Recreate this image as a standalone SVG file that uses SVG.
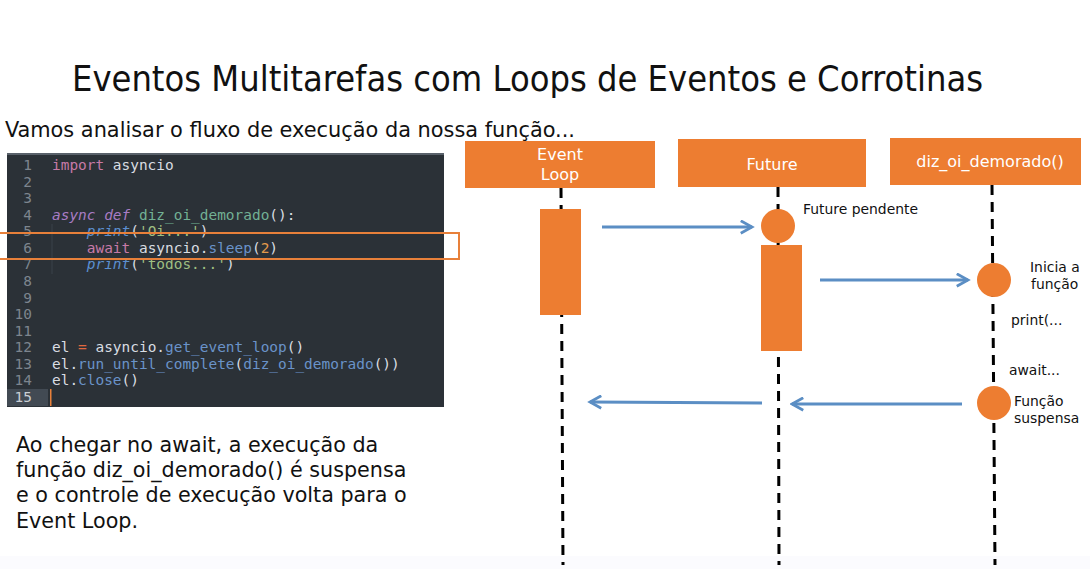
<svg xmlns="http://www.w3.org/2000/svg" width="1090" height="569" viewBox="0 0 1090 569">
  <style>
    .title { font-family: "DejaVu Sans Condensed", "DejaVu Sans", sans-serif; font-size: 36px; fill: #111; }
    .sub { font-family: "DejaVu Sans Condensed", "DejaVu Sans", sans-serif; font-size: 21px; fill: #111; }
    .body { font-family: "DejaVu Sans", sans-serif; font-size: 20.7px; fill: #111; }
    .code { font-family: "DejaVu Sans Mono", monospace; font-size: 14.45px; fill: #d9dde2; white-space: pre; }
    .ln { font-family: "DejaVu Sans Mono", monospace; font-size: 14.45px; fill: #7d858e; text-anchor: end; }
    .kw { fill: #c77aa7; }
    .it { fill: #a87cc4; font-style: italic; }
    .fn { fill: #72b094; }
    .bi { fill: #5c8fd0; font-style: italic; }
    .str { fill: #9fbf82; }
    .mt { fill: #6a93c9; }
    .num { fill: #e39a4b; }
    .op { fill: #e0683f; }
    .head { fill: #ed7d31; }
    .hlabel { font-family: "DejaVu Sans", sans-serif; font-size: 16px; fill: #fff; text-anchor: middle; }
    .life { stroke: #000; stroke-width: 3; stroke-dasharray: 10 7; fill: none; }
    .act { fill: #ed7d31; }
    .note { font-family: "DejaVu Sans", sans-serif; font-size: 13.9px; fill: #111; }
    .msg { stroke: #5b8ec4; stroke-width: 3; fill: none; marker-end: url(#arrow); }
  </style>
  <defs>
    <marker id="arrow" viewBox="0 0 12 12" refX="10" refY="6" markerWidth="5" markerHeight="5" orient="auto" markerUnits="strokeWidth">
      <path d="M1,1 L10,6 L1,11" fill="none" stroke="#5b8ec4" stroke-width="2.2" stroke-linejoin="miter"/>
    </marker>
  </defs>

  <rect width="1090" height="569" fill="#ffffff"/>
  <rect y="556" width="1090" height="13" fill="#fbfbfe"/>

  <!-- Headings -->
  <text class="title" x="72" y="91" textLength="911" lengthAdjust="spacingAndGlyphs">Eventos Multitarefas com Loops de Eventos e Corrotinas</text>
  <text class="sub" x="5" y="137" textLength="570" lengthAdjust="spacingAndGlyphs">Vamos analisar o fluxo de execução da nossa função...</text>

  <!-- Code editor -->
  <g id="code-panel">
    <rect x="7" y="153" width="437" height="254" fill="#2b3137"/>
    <rect x="7" y="153" width="437" height="2" fill="#59616a"/>
    <rect x="7" y="389" width="41" height="17" fill="#424a53"/>
    <rect x="50" y="389" width="1.5" height="17" fill="#e8803a"/>
    <line x1="52" y1="224" x2="52" y2="274" stroke="#3a424a" stroke-width="1"/>
    <text class="ln" x="32" y="170">1</text>
    <text class="ln" x="32" y="186.6">2</text>
    <text class="ln" x="32" y="203.1">3</text>
    <text class="ln" x="32" y="219.7">4</text>
    <text class="ln" x="32" y="236.3">5</text>
    <text class="ln" x="32" y="252.9">6</text>
    <text class="ln" x="32" y="269.4">7</text>
    <text class="ln" x="32" y="286">8</text>
    <text class="ln" x="32" y="302.6">9</text>
    <text class="ln" x="32" y="319.1">10</text>
    <text class="ln" x="32" y="335.7">11</text>
    <text class="ln" x="32" y="352.3">12</text>
    <text class="ln" x="32" y="368.9">13</text>
    <text class="ln" x="32" y="385.4">14</text>
    <text class="ln" x="32" y="402" style="fill:#c9ced4">15</text>
    <text class="code" x="52" y="170"><tspan class="kw">import</tspan> asyncio</text>
    <text class="code" x="52" y="219.7"><tspan class="it">async</tspan> <tspan class="it">def</tspan> <tspan class="fn">diz_oi_demorado</tspan>():</text>
    <text class="code" x="52" y="236.3">    <tspan class="bi">print</tspan>(<tspan class="str">'Oi...'</tspan>)</text>
    <text class="code" x="52" y="252.9">    <tspan class="kw">await</tspan> asyncio.<tspan class="mt">sleep</tspan>(<tspan class="num">2</tspan>)</text>
    <text class="code" x="52" y="269.4">    <tspan class="bi">print</tspan>(<tspan class="str">'todos...'</tspan>)</text>
    <text class="code" x="52" y="352.3">el <tspan class="op">=</tspan> asyncio.<tspan class="mt">get_event_loop</tspan>()</text>
    <text class="code" x="52" y="368.9">el.<tspan class="mt">run_until_complete</tspan>(<tspan class="mt">diz_oi_demorado</tspan>())</text>
    <text class="code" x="52" y="385.4">el.<tspan class="mt">close</tspan>()</text>
  </g>

  <!-- Highlight around the await line -->
  <rect id="await-highlight" x="-5" y="233" width="464" height="26" fill="none" stroke="#e8803a" stroke-width="2"/>

  <!-- Explanation -->
  <text class="body" x="16" y="452">Ao chegar no await, a execução da</text>
  <text class="body" x="16" y="477">função diz_oi_demorado() é suspensa</text>
  <text class="body" x="16" y="502">e o controle de execução volta para o</text>
  <text class="body" x="16" y="528">Event Loop.</text>

  <!-- Lifelines -->
  <g id="lifelines">
    <line class="life" x1="561" y1="188" x2="563" y2="565"/>
    <line class="life" x1="778" y1="187" x2="779" y2="565"/>
    <line class="life" x1="992" y1="185" x2="995" y2="565"/>
  </g>

  <g id="event-loop">
    <rect class="head" x="465" y="141" width="190" height="47"/>
    <text class="hlabel" x="560" y="160">Event</text>
    <text class="hlabel" x="560" y="180">Loop</text>
    <rect class="act" x="540" y="209" width="41" height="106"/>
  </g>

  <g id="future">
    <rect class="head" x="678" y="139" width="188" height="48"/>
    <text class="hlabel" x="772" y="170">Future</text>
    <circle class="act" cx="778" cy="226" r="17"/>
    <rect class="act" x="761" y="245" width="41" height="106"/>
    <text class="note" x="803" y="214">Future pendente</text>
  </g>

  <g id="diz-oi-demorado">
    <rect class="head" x="890" y="138" width="191" height="47"/>
    <text class="hlabel" x="990" y="167">diz_oi_demorado()</text>
    <circle class="act" cx="994" cy="280" r="17"/>
    <circle class="act" cx="994" cy="403" r="17"/>
    <text class="note" x="1030" y="272">Inicia a</text>
    <text class="note" x="1031" y="289">função</text>
    <text class="note" x="1011" y="325">print(...</text>
    <text class="note" x="1009" y="375">await...</text>
    <text class="note" x="1014" y="406">Função</text>
    <text class="note" x="1014" y="423">suspensa</text>
  </g>

  <!-- Messages -->
  <g id="connectors">
    <line class="msg" x1="602" y1="227" x2="752" y2="227"/>
    <line class="msg" x1="820" y1="280" x2="968" y2="280"/>
    <line class="msg" x1="962" y1="404" x2="792" y2="404"/>
    <line class="msg" x1="762" y1="403" x2="590" y2="402"/>
  </g>
</svg>
